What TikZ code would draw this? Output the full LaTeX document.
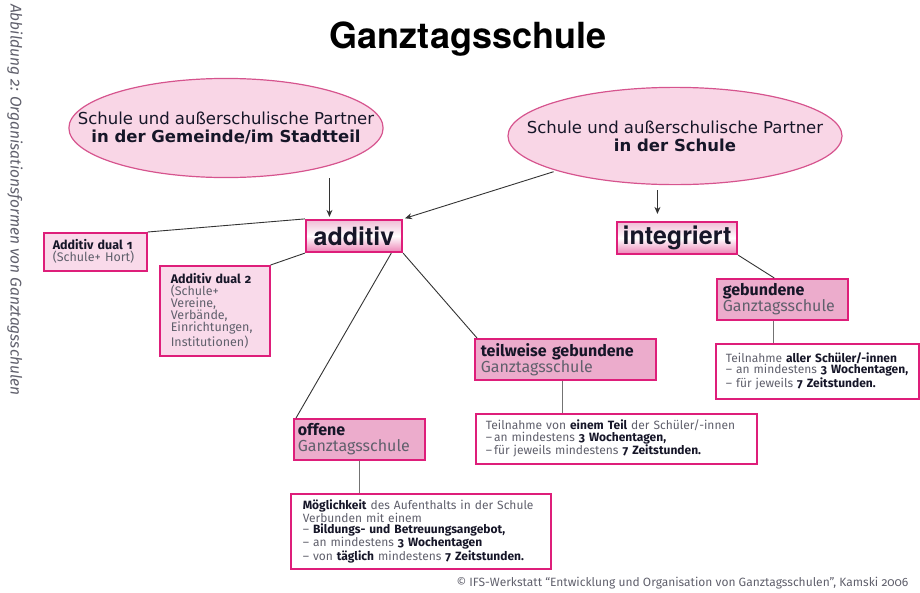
\documentclass[tikz,border=0pt]{standalone}
\usepackage{fontspec}
\setmainfont{DejaVu Sans}
\newfontfamily\titlefont{TeX Gyre Heros}
\newfontfamily\metafont[Numbers=OldStyle]{Fira Sans}
\usetikzlibrary{shapes.geometric,calc,arrows.meta}
\definecolor{ifsmagenta}{RGB}{222, 30, 122}
\definecolor{ellipsefill}{RGB}{249, 214, 230}
\definecolor{ellipseline}{RGB}{214, 84, 142}
\definecolor{typepink}{RGB}{236, 172, 204}
\definecolor{dualpink}{RGB}{249, 218, 234}
\definecolor{textdark}{RGB}{22, 22, 40}
\definecolor{textgray}{RGB}{96, 96, 108}
\newcommand{\kw}[1]{{\bfseries\color{textdark}#1}}

\begin{document}
\begin{tikzpicture}[x=1pt, y=-1pt, >={Stealth[length=7pt,width=6pt]},
    partner/.style={ellipse, draw=ellipseline, line width=1.2pt, fill=ellipsefill, inner ysep=19pt,
      align=center, text=textdark, font=\fontsize{16.5}{18}\selectfont},
    formbox/.style={draw=ifsmagenta, line width=2.2pt, top color=typepink!80, bottom color=ifsmagenta!55,
      middle color=white, inner sep=0pt, text=textdark, font=\titlefont\bfseries\fontsize{25}{28}\selectfont},
    infobox/.style={anchor=north west, draw=ifsmagenta, line width=1.6pt, fill=white, align=left,
      inner ysep=0pt, text=textgray, font=\metafont\fontsize{12}{11.5}\selectfont},
    dualbox/.style={infobox, fill=dualpink, font=\metafont\fontsize{12.5}{12}\selectfont},
    typebox/.style={infobox, fill=typepink, font=\metafont\fontsize{16}{16}\selectfont},
    link/.style={draw=black!80, line width=0.9pt},
    stem/.style={draw=black!55, line width=1.5pt}]
    \useasboundingbox (0,0) rectangle (920,592);

    % Caption and title
    \node[rotate=-90, anchor=west, inner sep=0pt, text=textgray, font=\metafont\itshape\fontsize{15.5}{17}\selectfont]
      (caption) at (15,4) {Abbildung 2: Organisationsformen von Ganztagsschulen};
    \node[anchor=base, font=\titlefont\bfseries\fontsize{36}{40}\selectfont] (title) at (468,48) {Ganztagsschule};

    % Partners
    \node[partner, inner xsep=-37pt] (gemeinde) at (226,128)
      {Schule und außerschulische Partner\\\textbf{in der Gemeinde/im Stadtteil}};
    \node[partner, inner xsep=-30pt] (schule) at (675,136)
      {Schule und außerschulische Partner\\\textbf{in der Schule}};

    % Forms
    \node[formbox, minimum width=96, minimum height=32] (additiv) at (354,236) {additiv};
    \node[formbox, minimum width=120, minimum height=32] (integriert) at (677,238) {integriert};

    % Additive variants
    \node[dualbox, text width=85, inner xsep=9, minimum height=38] (dual1) at (43,232)
      {\kw{Additiv dual 1}\\(Schule+ Hort)};
    \node[dualbox, text width=88, inner xsep=11, minimum height=90] (dual2) at (159,265)
      {\kw{Additiv dual 2}\\(Schule+\\Vereine,\\Verbände,\\Einrichtungen,\\Institutionen)};

    % Types of all-day school
    \node[typebox, text width=123, inner xsep=4, minimum height=41] (offene) at (293,418)
      {\kw{offene}\\Ganztagsschule};
    \node[typebox, text width=169, inner xsep=6, minimum height=41] (teilweise) at (474,338)
      {\kw{teilweise gebundene}\\Ganztagsschule};
    \node[typebox, text width=119, inner xsep=6, minimum height=41] (gebundene) at (716,278)
      {\kw{gebundene}\\Ganztagsschule};

    % Conditions
    \node[infobox, text width=236, inner xsep=12, minimum height=75] (offinfo) at (290,493)
      {\kw{Möglichkeit} des Aufenthalts in der Schule\\Verbunden mit einem\\
       – \kw{Bildungs- und Betreuungsangebot,}\\– an mindestens \kw{3 Wochentagen}\\
       – von \kw{täglich} mindestens \kw{7 Zeitstunden.}};
    \node[infobox, text width=261, inner xsep=10, minimum height=50] (teilinfo) at (475,413)
      {Teilnahme von \kw{einem Teil} der Schüler/-innen\\–\,an mindestens \kw{3 Wochentagen,}\\
       –\,für jeweils mindestens \kw{7 Zeitstunden.}};
    \node[infobox, text width=183, inner xsep=10, minimum height=55] (gebinfo) at (715,343)
      {Teilnahme \kw{aller Schüler/-innen}\\– an mindestens \kw{3 Wochentagen,}\\
       – für jeweils \kw{7 Zeitstunden.}};

    % Source
    \node[anchor=base east, text=textgray, font=\metafont\fontsize{12}{13}\selectfont] (source) at (912,586)
      {© IFS-Werkstatt “Entwicklung und Organisation von Ganztagsschulen”, Kamski 2006};

    % Arrows
    \coordinate (a25) at ($(additiv.north west)!0.25!(additiv.north east)$);
    \coordinate (i34) at ($(integriert.north west)!0.34!(integriert.north east)$);
    \draw[link, ->, shorten >=2pt] (gemeinde.south -| a25) -- (a25);
    \draw[link, ->, shorten <=3pt, shorten >=2pt] (schule.south west) -- (additiv.north east);
    \draw[link, ->, shorten <=5pt, shorten >=7pt] (schule.south -| i34) -- (i34);

    % Links
    \coordinate (a88) at ($(additiv.south west)!0.88!(additiv.south east)$);
    \draw[link] (dual1.north east) -- (additiv.north west);
    \draw[link] (dual2.north east) -- (additiv.south west);
    \draw[link] (a88) -- ([xshift=3pt]offene.north west);
    \draw[link] (additiv.south east) -- ([xshift=3pt]teilweise.north west);
    \draw[link] (integriert.south east) -- ([xshift=-8pt]gebundene.north);

    % Stems
    \draw[stem] (offene.south) -- (offene.south |- offinfo.north);
    \draw[stem] ([xshift=-3pt]teilweise.south) -- ([xshift=-3pt]teilweise.south |- teilinfo.north);
    \draw[stem] ([xshift=-9pt]gebundene.south) -- ([xshift=-9pt]gebundene.south |- gebinfo.north);
\end{tikzpicture}
\end{document}
